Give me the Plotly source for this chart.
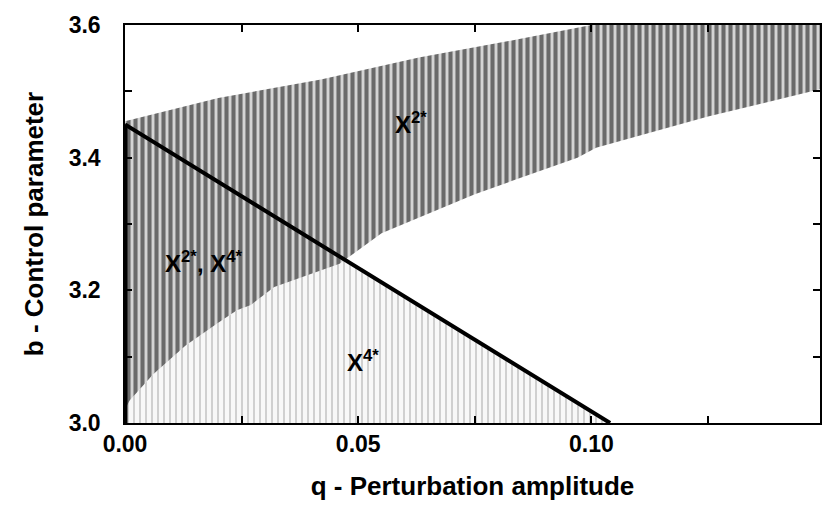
import plotly.graph_objects as go

# ---- data ----
# lower boundary of the dark (X2*) band
low_q = [0.0, 0.001, 0.006, 0.013, 0.020, 0.024, 0.027, 0.032, 0.046, 0.055, 0.075, 0.097, 0.101, 0.125, 0.149]
low_b = [3.02, 3.034, 3.073, 3.117, 3.151, 3.170, 3.178, 3.205, 3.240, 3.286, 3.345, 3.400, 3.415, 3.462, 3.503]
# upper boundary of the dark band (clipped at top of the plot)
up_q = [0.0, 0.020, 0.042, 0.063, 0.084, 0.100, 0.149]
up_b = [3.455, 3.490, 3.518, 3.551, 3.578, 3.600, 3.600]
# top boundary of the light (X4*) region
light_q = [0.0, 0.001, 0.006, 0.013, 0.020, 0.024, 0.027, 0.032, 0.045, 0.104]
light_b = [3.02, 3.034, 3.073, 3.117, 3.151, 3.170, 3.178, 3.205, 3.255, 3.0]
# separating straight line
sep_q = [0.0, 0.104]
sep_b = [3.45, 3.0]
# thick line along b axis
wall_q = [0.0, 0.0]
wall_b = [3.0, 3.45]

x_ticks = [0.0, 0.05, 0.10]
x_labels = ["0.00", "0.05", "0.10"]
y_ticks = [3.0, 3.2, 3.4, 3.6]
y_labels = ["3.0", "3.2", "3.4", "3.6"]

labels = [
    dict(q=0.0081, b=3.243, text="X<sup>2*</sup>, X<sup>4*</sup>"),
    dict(q=0.0575, b=3.453, text="X<sup>2*</sup>"),
    dict(q=0.0472, b=3.094, text="X<sup>4*</sup>"),
]

FONT = "Liberation Sans, Arial, sans-serif"

fig = go.Figure()

# light region
fig.add_trace(go.Scatter(
    x=light_q + [0.0], y=light_b + [3.0],
    fill="toself", mode="lines", line=dict(width=0),
    fillcolor="#f4f4f4",
    fillpattern=dict(shape="|", size=6, solidity=0.25, fgcolor="#8c8c8c", bgcolor="#f8f8f8"),
    hoverinfo="skip", showlegend=False,
))

# dark region
fig.add_trace(go.Scatter(
    x=low_q + up_q[::-1], y=low_b + up_b[::-1],
    fill="toself", mode="lines", line=dict(width=0),
    fillcolor="#444444",
    fillpattern=dict(shape="|", size=7, solidity=0.58, fgcolor="#000000", bgcolor="#d4d4d4"),
    hoverinfo="skip", showlegend=False,
))

# separating line
fig.add_trace(go.Scatter(x=sep_q, y=sep_b, mode="lines",
                         line=dict(color="black", width=4),
                         hoverinfo="skip", showlegend=False))
fig.add_trace(go.Scatter(x=wall_q, y=wall_b, mode="lines",
                         line=dict(color="black", width=5),
                         hoverinfo="skip", showlegend=False))

for a in labels:
    fig.add_annotation(x=a["q"], y=a["b"], text=a["text"], showarrow=False,
                       xanchor="left", yanchor="middle",
                       font=dict(family=FONT, size=24, color="black", weight="bold"))

fig.update_xaxes(
    range=[0, 0.149], tickvals=x_ticks, ticktext=x_labels,
    ticks="inside", ticklen=7, tickwidth=1.5, tickcolor="black",
    minor=dict(ticks="inside", ticklen=7, dtick=0.025, tick0=0, tickcolor="black", tickwidth=1.5),
    showline=True, linecolor="black", linewidth=1.5, mirror="ticks",
    showgrid=False, zeroline=False,
    tickfont=dict(family=FONT, size=23, color="black", weight="bold"),
    title=dict(text="q - Perturbation amplitude", standoff=20,
               font=dict(family=FONT, size=26, color="black", weight="bold")),
)
fig.update_yaxes(
    range=[3.0, 3.6], tickvals=y_ticks, ticktext=y_labels,
    ticks="inside", ticklen=7, tickwidth=1.5, tickcolor="black",
    minor=dict(ticks="inside", ticklen=7, dtick=0.1, tick0=3.0, tickcolor="black", tickwidth=1.5),
    showline=True, linecolor="black", linewidth=1.5, mirror="ticks",
    showgrid=False, zeroline=False,
    ticklabelstandoff=18,
    tickfont=dict(family=FONT, size=23, color="black", weight="bold"),
    title=dict(text="b - Control parameter", standoff=18,
               font=dict(family=FONT, size=26, color="black", weight="bold")),
)

fig.update_layout(
    width=834, height=509,
    margin=dict(l=125, r=12, t=14, b=86),
    plot_bgcolor="white", paper_bgcolor="white",
)

fig.write_html("out.html")
